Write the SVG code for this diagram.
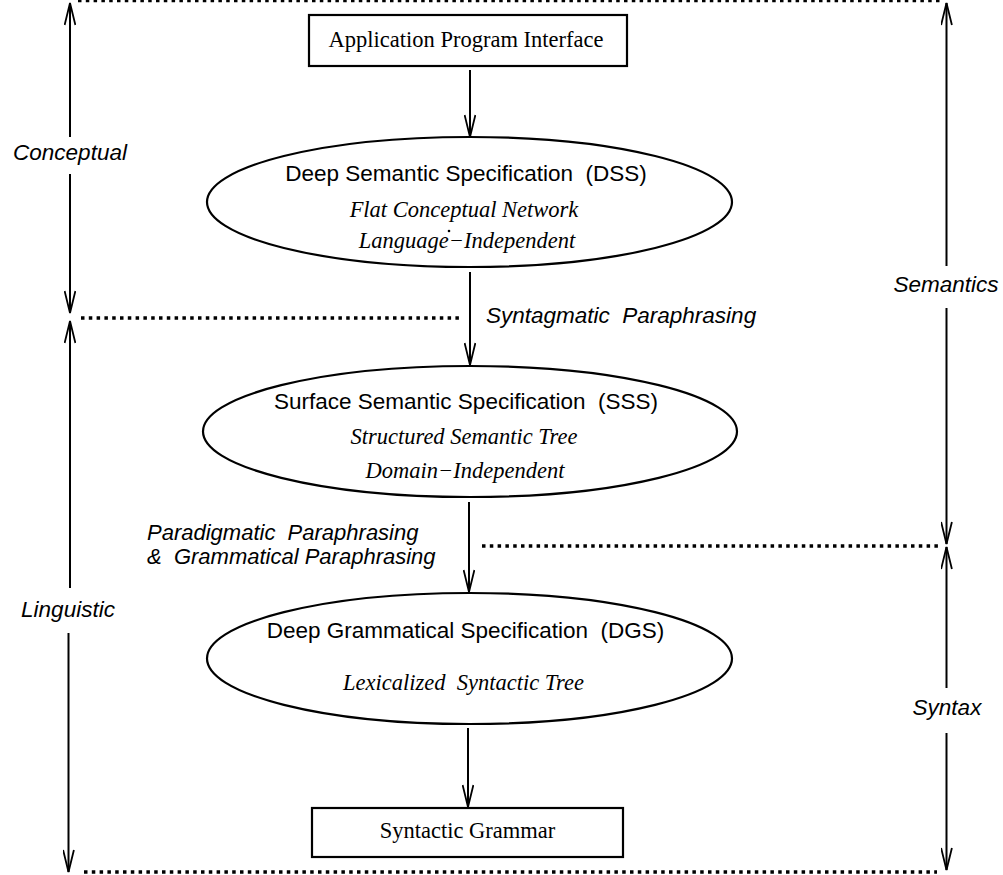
<svg xmlns="http://www.w3.org/2000/svg" width="1003" height="875" viewBox="0 0 1003 875">
<style>
.box{fill:#fff;stroke:#000;stroke-width:2.2}
.ell{fill:#fff;stroke:#000;stroke-width:2.2}
.ln{stroke:#000;stroke-width:2;fill:none}
.dot{stroke:#000;stroke-width:3.3;stroke-dasharray:3.5 4.3;fill:none}
.serif{font-family:"Liberation Serif","Times New Roman",serif;font-size:22.5px;fill:#000}
.sans{font-family:"Liberation Sans",Arial,sans-serif;font-size:22.5px;fill:#000}
.it{font-style:italic}
.sm{font-size:22px}
text{white-space:pre}
</style>
<defs>
<marker id="ah" viewBox="0 0 24 12" refX="23" refY="6" markerWidth="24" markerHeight="12" markerUnits="userSpaceOnUse" orient="auto-start-reverse">
<path d="M1,0.6 L23,6 L1,11.4" fill="none" stroke="#000" stroke-width="1.8"/>
</marker>
</defs>
<rect width="1003" height="875" fill="#fff"/>

<g id="connectors">
<line class="dot" x1="78" y1="0.5" x2="942" y2="0.5"/>
<line class="dot" x1="81" y1="318" x2="460" y2="318"/>
<line class="dot" x1="482" y1="546" x2="940" y2="546"/>
<line class="dot" x1="84" y1="872" x2="937" y2="872"/>

<line class="ln" x1="70" y1="3" x2="70" y2="137" marker-start="url(#ah)"/>
<line class="ln" x1="70" y1="174" x2="70" y2="313" marker-end="url(#ah)"/>
<line class="ln" x1="70" y1="321" x2="70" y2="588" marker-start="url(#ah)"/>
<line class="ln" x1="68.5" y1="633" x2="68.5" y2="872" marker-end="url(#ah)"/>

<line class="ln" x1="946.5" y1="3" x2="946.5" y2="266" marker-start="url(#ah)"/>
<line class="ln" x1="946.5" y1="308" x2="946.5" y2="544" marker-end="url(#ah)"/>
<line class="ln" x1="946.5" y1="547" x2="946.5" y2="688" marker-start="url(#ah)"/>
<line class="ln" x1="946.5" y1="733" x2="946.5" y2="870" marker-end="url(#ah)"/>

<line class="ln" x1="470" y1="70" x2="470" y2="137" marker-end="url(#ah)"/>
<line class="ln" x1="470" y1="272" x2="470" y2="365" marker-end="url(#ah)"/>
<line class="ln" x1="469" y1="502" x2="469" y2="592" marker-end="url(#ah)"/>
<line class="ln" x1="468" y1="728" x2="468" y2="807" marker-end="url(#ah)"/>

<text class="sans it" x="486" y="323">Syntagmatic  Paraphrasing</text>
<text class="sans it sm" x="147" y="540">Paradigmatic  Paraphrasing</text>
<text class="sans it sm" x="147" y="564">&amp;  Grammatical Paraphrasing</text>
<text class="sans it" x="70" y="160" text-anchor="middle">Conceptual</text>
<text class="sans it" x="68" y="617" text-anchor="middle">Linguistic</text>
<text class="sans it" x="946" y="292" text-anchor="middle">Semantics</text>
<text class="sans it" x="947" y="715" text-anchor="middle">Syntax</text>
</g>

<g id="api">
<rect class="box" x="309" y="15" width="318" height="51"/>
<text class="serif" x="466" y="46.5" text-anchor="middle">Application Program Interface</text>
</g>

<g id="dss">
<ellipse class="ell" cx="469.5" cy="202" rx="262.5" ry="65"/>
<text class="sans" x="466" y="181" text-anchor="middle">Deep Semantic Specification  (DSS)</text>
<text class="serif it" x="464" y="217" text-anchor="middle">Flat Conceptual Network</text>
<text class="serif it" x="467" y="248" text-anchor="middle">Language−Independent</text>
<circle cx="449" cy="231" r="1.3" fill="#000"/>
</g>

<g id="sss">
<ellipse class="ell" cx="470" cy="431.5" rx="267" ry="65.5"/>
<text class="sans" x="466" y="409" text-anchor="middle">Surface Semantic Specification  (SSS)</text>
<text class="serif it" x="464" y="444" text-anchor="middle">Structured Semantic Tree</text>
<text class="serif it" x="465" y="478" text-anchor="middle">Domain−Independent</text>
</g>

<g id="dgs">
<ellipse class="ell" cx="469.5" cy="658.5" rx="262.5" ry="65.5"/>
<text class="sans" x="465.5" y="638" text-anchor="middle">Deep Grammatical Specification  (DGS)</text>
<text class="serif it" x="463.5" y="690" text-anchor="middle">Lexicalized  Syntactic Tree</text>
</g>

<g id="sg">
<rect class="box" x="312" y="808" width="311" height="49"/>
<text class="serif" x="467.5" y="838" text-anchor="middle">Syntactic Grammar</text>
</g>
</svg>
